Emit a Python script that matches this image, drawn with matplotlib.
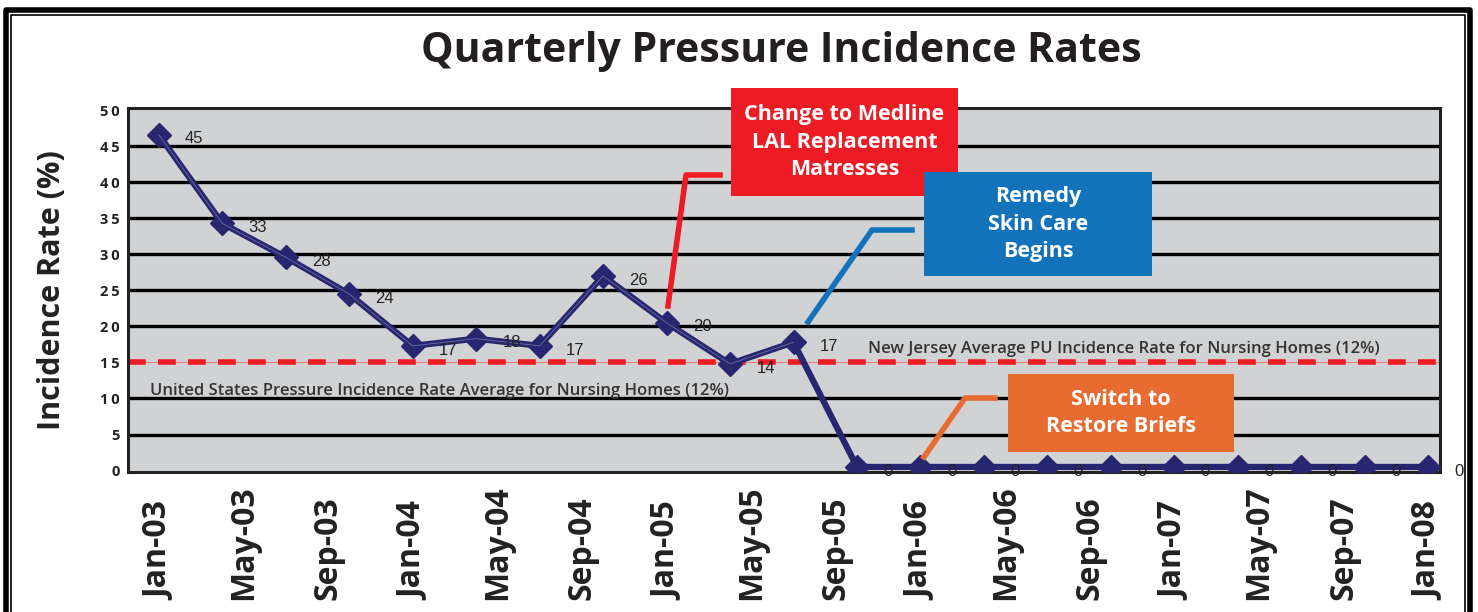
import matplotlib.pyplot as plt
from matplotlib.patches import Rectangle
from matplotlib.lines import Line2D

# quarterly points, months since Jan-03
months = list(range(0, 61, 3))
# heights as drawn in the picture
rates = [46.6, 34.3, 29.6, 24.5, 17.3, 18.3, 17.3, 27.0, 20.5, 14.8, 17.8,
         0.5, 0.5, 0.5, 0.5, 0.5, 0.5, 0.5, 0.5, 0.5, 0.5]
# numbers printed next to the points
point_labels = ['45', '33', '28', '24', '17', '18', '17', '26', '20', '14', '17',
                '0', '0', '0', '0', '0', '0', '0', '0', '0', '0']

tick_months = list(range(0, 61, 4))
tick_labels = ['Jan-03', 'May-03', 'Sep-03', 'Jan-04', 'May-04', 'Sep-04',
               'Jan-05', 'May-05', 'Sep-05', 'Jan-06', 'May-06', 'Sep-06',
               'Jan-07', 'May-07', 'Sep-07', 'Jan-08']
y_ticks = [0, 5, 10, 15, 20, 25, 30, 35, 40, 45, 50]
average_rate = 15

NAVY = '#262770'
RED = '#ed1c24'
BLUE = '#1273bb'
ORANGE = '#e86c32'
FONT = 'Open Sans'

fig = plt.figure(figsize=(14.78, 6.12), dpi=100)
ax = fig.add_axes([128 / 1478, 1 - 472 / 612, 1312 / 1478, 364 / 612])
ax.set_facecolor('#d1d2d4')
ax.set_xlim(-1.45, 60.55)
ax.set_ylim(-0.2, 50.3)

for v in y_ticks[1:-1]:
    if v != average_rate:
        ax.axhline(v, color='black', lw=2.4, zorder=1)
ax.axhline(average_rate, color='#f08080', lw=0.8, zorder=2)
ax.axhline(average_rate, color=RED, lw=4, dashes=(3.2, 2.2), zorder=2)

ax.plot(months, rates, color=NAVY, lw=4.5, marker='D', markersize=12,
        zorder=5, solid_joinstyle='miter')
ax.plot(months[:11], rates[:11], color='#6b6e9e', lw=0.6, zorder=6)
for m, r, t in zip(months, rates, point_labels):
    ax.annotate(t, (m, r), xytext=(19, -3), textcoords='offset points',
                fontsize=12, family='Liberation Sans', color='#222222',
                va='center', ha='left', zorder=7, annotation_clip=False)

ax.text(-0.4, 11.0, 'United States Pressure Incidence Rate Average for Nursing Homes (12%)',
        family=FONT, fontsize=12, fontweight='semibold', color='#333333',
        va='center', zorder=4)
ax.text(33.5, 16.9, 'New Jersey Average PU Incidence Rate for Nursing Homes (12%)',
        family=FONT, fontsize=12, fontweight='semibold', color='#333333',
        va='center', zorder=4)

ax.set_xticks(tick_months)
ax.set_xticklabels(tick_labels, rotation=90, family=FONT, fontsize=23,
                   fontweight='bold', color='#222222')
for lbl in ax.get_xticklabels():
    lbl.set_va('bottom')
ax.set_yticks(y_ticks)
ax.set_yticklabels(['\u2009'.join(str(v)) for v in y_ticks], family=FONT,
                   fontsize=10.5, fontweight='bold', color='#222222')
ax.tick_params(length=0)
ax.tick_params(axis='y', pad=6)
ax.tick_params(axis='x', pad=92)
for s in ax.spines.values():
    s.set_linewidth(2.2)
    s.set_color('#222222')

ax.set_ylabel('Incidence Rate (%)', family=FONT, fontsize=22, fontweight='bold',
              color='#222222', labelpad=24)
fig.text(781 / 1478, 1 - 52 / 612, 'Quarterly Pressure Incidence Rates', family=FONT,
         fontsize=29.5, fontweight='bold', color='#231f20', ha='center', va='center')

# callout boxes with leader lines (pixel coords of the picture)
callouts = [
    ('Change to Medline\nLAL Replacement\nMatresses', RED, (731, 88, 958, 196),
     [(668, 306), (686, 175), (720, 175)]),
    ('Remedy\nSkin Care\nBegins', BLUE, (924, 172, 1152, 276),
     [(808, 322), (872, 230), (912, 230)]),
    ('Switch to\nRestore Briefs', ORANGE, (1008, 374, 1234, 452),
     [(924, 457), (965, 398), (995, 398)]),
]
for text, col, (x0, y0, x1, y1), path in callouts:
    fig.patches.append(Rectangle((x0 / 1478, 1 - y1 / 612), (x1 - x0) / 1478,
                                 (y1 - y0) / 612, transform=fig.transFigure,
                                 facecolor=col, edgecolor='none', zorder=10))
    fig.text((x0 + x1) / 2 / 1478, 1 - (y0 + y1) / 2 / 612, text, family=FONT,
             fontsize=15.5, fontweight='bold', color='white', ha='center',
             va='center', linespacing=1.38, zorder=11)
    fig.lines.append(Line2D([p[0] / 1478 for p in path], [1 - p[1] / 612 for p in path],
                            transform=fig.transFigure, color=col, lw=4, zorder=9))

# double frame round the figure
fig.lines.append(Line2D([6 / 1478, 6 / 1478, 1470 / 1478, 1470 / 1478],
                        [0, 1 - 10 / 612, 1 - 10 / 612, 0],
                        transform=fig.transFigure, color='black', lw=4))
fig.lines.append(Line2D([11 / 1478, 11 / 1478, 1465 / 1478, 1465 / 1478],
                        [0, 1 - 15 / 612, 1 - 15 / 612, 0],
                        transform=fig.transFigure, color='black', lw=1.2))

fig.savefig('out.png', dpi=100)
